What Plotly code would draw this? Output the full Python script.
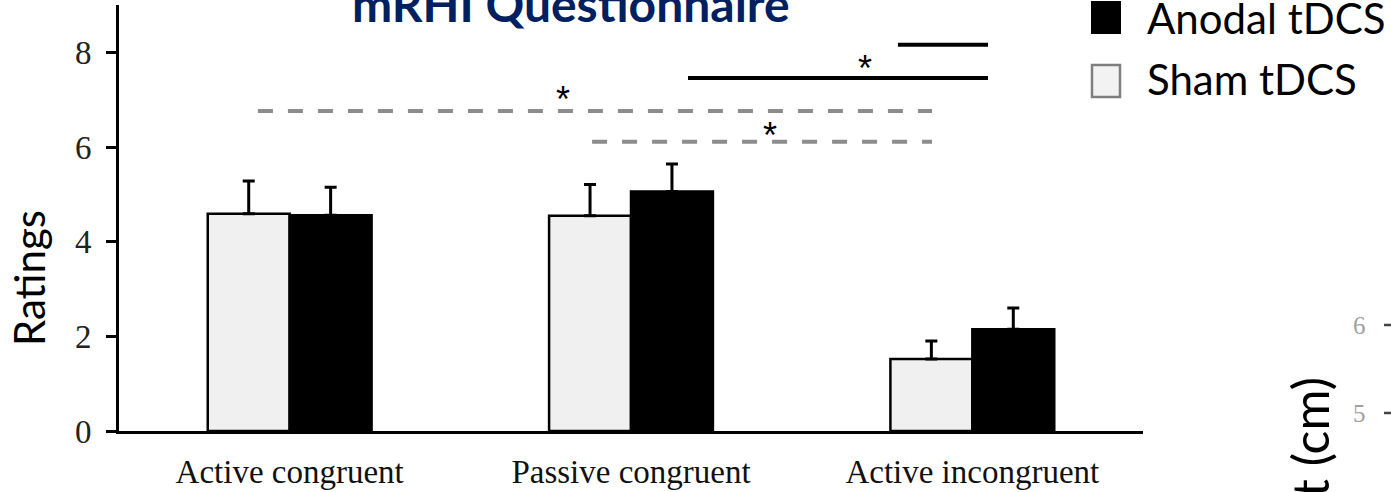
import plotly.graph_objects as go

categories = ["Active congruent", "Passive congruent", "Active incongruent"]
sham_mean = [4.59, 4.55, 1.52]
sham_err = [0.69, 0.66, 0.38]
anodal_mean = [4.56, 5.06, 2.15]
anodal_err = [0.59, 0.58, 0.45]
y_ticks = [0, 2, 4, 6, 8]

# significance brackets: (x0, x1, y, style)
sig_lines = [
    (-0.093, 1.882, 6.76, "gray"),
    (0.886, 1.882, 6.11, "gray"),
    (1.167, 2.046, 7.46, "black"),
    (1.782, 2.046, 8.16, "black"),
]
sig_stars = [(0.80, 7.18), (1.407, 6.42), (1.686, 7.82)]

W, H = 1391, 492
L, R, T, B = 119, 1391 - 1143, 5, 492 - 431


def px2paper_x(px):
    return (px - L) / (W - L - R)


def px2paper_y(py):
    return (H - B - py) / (H - T - B)


fig = go.Figure()
xs = list(range(len(categories)))
fig.add_trace(go.Bar(
    x=xs, y=sham_mean, name="Sham tDCS",
    marker=dict(color="#f0f0f0", line=dict(color="black", width=2.5)),
    error_y=dict(type="data", symmetric=False, array=sham_err,
                 arrayminus=[0] * 3, color="black", thickness=3, width=6),
))
fig.add_trace(go.Bar(
    x=xs, y=anodal_mean, name="Anodal tDCS",
    marker=dict(color="black", line=dict(color="black", width=2.5)),
    error_y=dict(type="data", symmetric=False, array=anodal_err,
                 arrayminus=[0] * 3, color="black", thickness=3, width=6),
))

for x0, x1, y, style in sig_lines:
    if style == "gray":
        line = dict(color="#8c8c8c", width=4, dash="15px,15px")
    else:
        line = dict(color="black", width=4)
    fig.add_shape(type="line", x0=x0, x1=x1, y0=y, y1=y, xref="x", yref="y",
                  line=line, layer="above")
for sx, sy in sig_stars:
    fig.add_annotation(x=sx, y=sy, xref="x", yref="y", text="*", showarrow=False,
                       font=dict(family="Liberation Sans", size=36, color="black"),
                       yanchor="middle", xanchor="center", yshift=-8)

# title
fig.add_annotation(x=px2paper_x(571), y=px2paper_y(23), xref="paper", yref="paper",
                   text="<b>mRHI Questionnaire</b>", showarrow=False,
                   font=dict(family="Lato", size=48, color="#002060"),
                   xanchor="center", yanchor="bottom", yshift=-11)

# legend (manual)
fig.add_shape(type="rect", xref="paper", yref="paper",
              x0=px2paper_x(1091), x1=px2paper_x(1121), y0=px2paper_y(34), y1=px2paper_y(1),
              fillcolor="black", line=dict(color="black", width=0))
fig.add_shape(type="rect", xref="paper", yref="paper",
              x0=px2paper_x(1092), x1=px2paper_x(1120), y0=px2paper_y(97), y1=px2paper_y(65),
              fillcolor="#f2f2f2", line=dict(color="#7f7f7f", width=2.5))
fig.add_annotation(x=px2paper_x(1145), y=px2paper_y(18), xref="paper", yref="paper",
                   text="Anodal tDCS", showarrow=False, xanchor="left", yanchor="middle",
                   font=dict(family="Lato", size=42, color="black"))
fig.add_annotation(x=px2paper_x(1145), y=px2paper_y(79), xref="paper", yref="paper",
                   text="Sham tDCS", showarrow=False, xanchor="left", yanchor="middle",
                   font=dict(family="Lato", size=42, color="black"))

# y-axis title
fig.add_annotation(x=px2paper_x(29), y=px2paper_y(278), xref="paper", yref="paper",
                   text="Ratings", showarrow=False, textangle=-90,
                   xanchor="center", yanchor="middle",
                   font=dict(family="Lato", size=42, color="black"))

# fragment of neighbouring panel on the right
fig.add_annotation(x=px2paper_x(1310), y=px2paper_y(375), xref="paper", yref="paper",
                   text="t (cm)", showarrow=False, textangle=-90,
                   xanchor="center", yanchor="top",
                   font=dict(family="Lato", size=50, color="black"))
for lab, py in [("6", 325), ("5", 413)]:
    fig.add_annotation(x=px2paper_x(1359), y=px2paper_y(py), xref="paper", yref="paper",
                       text=lab, showarrow=False, xanchor="center", yanchor="middle",
                       font=dict(family="Liberation Serif", size=25, color="#a0a0a0"))
    fig.add_shape(type="line", xref="paper", yref="paper",
                  x0=px2paper_x(1384), x1=px2paper_x(1391), y0=px2paper_y(py), y1=px2paper_y(py),
                  line=dict(color="#444444", width=2.5))

fig.update_layout(
    width=W, height=H,
    margin=dict(l=L, r=R, t=T, b=B, pad=0, autoexpand=False),
    paper_bgcolor="white", plot_bgcolor="white",
    barmode="group", bargap=0.52, bargroupgap=0,
    showlegend=False,
    xaxis=dict(range=[-0.5, 2.5], tickvals=xs, ticktext=categories,
               showline=True, linecolor="black", linewidth=3, ticks="",
               ticklabelstandoff=9, automargin=False,
               tickfont=dict(family="Liberation Serif", size=33, color="#111111"),
               showgrid=False, zeroline=False, fixedrange=True),
    yaxis=dict(range=[0, 9], tickvals=y_ticks, showline=True, linecolor="black",
               linewidth=3, ticks="outside", ticklen=10, tickwidth=2.5, tickcolor="black",
               ticklabelstandoff=8, automargin=False,
               tickfont=dict(family="Liberation Serif", size=33, color="#222222"),
               showgrid=False, zeroline=False, fixedrange=True),
)

fig.write_html("out.html", config={"displayModeBar": False})
